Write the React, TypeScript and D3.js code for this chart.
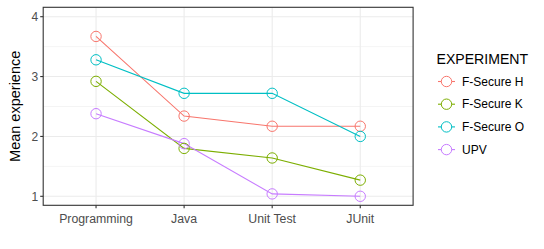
import { useEffect, useRef } from "react";
import * as d3 from "d3";

const categories = ["Programming", "Java", "Unit Test", "JUnit"];
const seriesNames = ["F-Secure H", "F-Secure K", "F-Secure O", "UPV"];
const fSecureH = [3.67, 2.34, 2.17, 2.17];
const fSecureK = [2.92, 1.8, 1.64, 1.27];
const fSecureO = [3.28, 2.72, 2.72, 2.0];
const upv = [2.38, 1.88, 1.04, 1.0];
const yTicks = [1, 2, 3, 4];
const yMinor = [1.5, 2.5, 3.5];
const colors = ["#F8766D", "#7CAE00", "#00BFC4", "#C77CFF"];

const W = 544;
const H = 249;

export default function App() {
  const svgRef = useRef<SVGSVGElement | null>(null);

  useEffect(() => {
    if (!svgRef.current) return;
    const svg = d3.select(svgRef.current);
    svg.selectAll("*").remove();

    const left = 43.2, right = 413.1, top = 7.3, bottom = 205.3;
    const font = "Liberation Sans, Arial, sans-serif";

    // discrete axis with ggplot's 0.6 expansion
    const step = (right - left) / (categories.length - 1 + 1.2);
    const x = (i: number) => left + step * (0.6 + i);
    const y = d3.scaleLinear().domain([1, 4]).range([196.3, 16.7]);

    const series = [fSecureH, fSecureK, fSecureO, upv];

    const g = svg.append("g");
    g.append("rect")
      .attr("x", left).attr("y", top)
      .attr("width", right - left).attr("height", bottom - top)
      .attr("fill", "white");

    // grid
    g.selectAll(".minor").data(yMinor).enter().append("line")
      .attr("x1", left).attr("x2", right)
      .attr("y1", d => y(d)).attr("y2", d => y(d))
      .attr("stroke", "#EBEBEB").attr("stroke-width", 0.55);
    g.selectAll(".major").data(yTicks).enter().append("line")
      .attr("x1", left).attr("x2", right)
      .attr("y1", d => y(d)).attr("y2", d => y(d))
      .attr("stroke", "#EBEBEB").attr("stroke-width", 1.1);
    g.selectAll(".vmajor").data(categories).enter().append("line")
      .attr("x1", (_d, i) => x(i)).attr("x2", (_d, i) => x(i))
      .attr("y1", top).attr("y2", bottom)
      .attr("stroke", "#EBEBEB").attr("stroke-width", 1.1);

    // lines + points
    const line = d3.line<number>().x((_d, i) => x(i)).y(d => y(d));
    series.forEach((s, k) => {
      g.append("path").datum(s)
        .attr("d", line)
        .attr("fill", "none")
        .attr("stroke", colors[k])
        .attr("stroke-width", 1.1);
    });
    series.forEach((s, k) => {
      g.selectAll(null).data(s).enter().append("circle")
        .attr("cx", (_d, i) => x(i))
        .attr("cy", d => y(d))
        .attr("r", 5.2)
        .attr("fill", "none")
        .attr("stroke", colors[k])
        .attr("stroke-width", 1);
    });

    // border
    g.append("rect")
      .attr("x", left).attr("y", top)
      .attr("width", right - left).attr("height", bottom - top)
      .attr("fill", "none").attr("stroke", "#333333").attr("stroke-width", 1.1);

    // y axis
    yTicks.forEach(t => {
      g.append("line")
        .attr("x1", left - 3).attr("x2", left)
        .attr("y1", y(t)).attr("y2", y(t))
        .attr("stroke", "#333333").attr("stroke-width", 1.1);
      g.append("text")
        .attr("x", left - 5).attr("y", y(t))
        .attr("dy", "0.35em")
        .attr("text-anchor", "end")
        .attr("font-family", font).attr("font-size", 12)
        .attr("fill", "#4D4D4D")
        .text(t);
    });
    // x axis
    categories.forEach((c, i) => {
      g.append("line")
        .attr("x1", x(i)).attr("x2", x(i))
        .attr("y1", bottom).attr("y2", bottom + 3)
        .attr("stroke", "#333333").attr("stroke-width", 1.1);
      g.append("text")
        .attr("x", x(i)).attr("y", 223)
        .attr("text-anchor", "middle")
        .attr("font-family", font).attr("font-size", 12.3)
        .attr("fill", "#4D4D4D")
        .text(c);
    });

    g.append("text")
      .attr("transform", `translate(19.5,${(top + bottom) / 2}) rotate(-90)`)
      .attr("text-anchor", "middle")
      .attr("font-family", font).attr("font-size", 14.5)
      .attr("fill", "black")
      .text("Mean experience");

    // legend
    const lg = svg.append("g");
    lg.append("text")
      .attr("x", 436.5).attr("y", 64)
      .attr("font-family", font).attr("font-size", 14.1)
      .text("EXPERIMENT");
    seriesNames.forEach((n, k) => {
      const cy = 81.5 + k * 22.7;
      lg.append("line")
        .attr("x1", 438).attr("x2", 455)
        .attr("y1", cy).attr("y2", cy)
        .attr("stroke", colors[k]).attr("stroke-width", 1.1);
      lg.append("circle")
        .attr("cx", 446.5).attr("cy", cy).attr("r", 5.2)
        .attr("fill", "white")
        .attr("stroke", colors[k]).attr("stroke-width", 1);
      lg.append("text")
        .attr("x", 462).attr("y", cy).attr("dy", "0.35em")
        .attr("font-family", font).attr("font-size", 12)
        .text(n);
    });
  }, []);

  return (
    <svg ref={svgRef} width={W} height={H}
      style={{ position: "absolute", left: 0, top: 0, background: "white" }} />
  );
}
